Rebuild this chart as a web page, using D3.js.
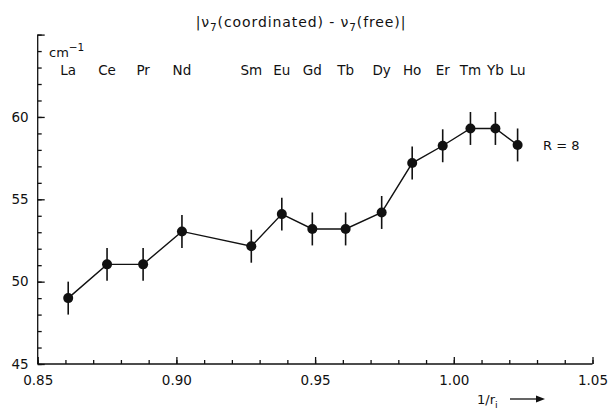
<!DOCTYPE html>
<html>
<head>
<meta charset="utf-8">
<script src="https://cdn.jsdelivr.net/npm/d3@7"></script>
<style>
  body { margin: 0; background: #fff; }
  text { font-family: "DejaVu Sans", "Liberation Sans", sans-serif; fill: #111; }
</style>
</head>
<body>
<script>
// lanthanide series
var elements = ["La", "Ce", "Pr", "Nd", "Sm", "Eu", "Gd", "Tb", "Dy", "Ho", "Er", "Tm", "Yb", "Lu"];
var invRadius = [0.861, 0.875, 0.888, 0.902, 0.927, 0.938, 0.949, 0.961, 0.974, 0.985, 0.996, 1.006, 1.015, 1.023];
var shift = [49.0, 51.05, 51.05, 53.05, 52.15, 54.1, 53.2, 53.2, 54.2, 57.2, 58.25, 59.3, 59.3, 58.3];
var errBar = [1, 1, 1, 1, 1, 1, 1, 1, 1, 1, 1, 1, 1, 1];
var xTickLabels = [0.85, 0.90, 0.95, 1.00, 1.05];
var yTickLabels = [45, 50, 55, 60];

var W = 609, H = 410;

var svg = d3.select("body").append("svg")
    .attr("width", W)
    .attr("height", H);

var x = d3.scaleLinear().domain([0.85, 1.05]).range([37.7, 592.5]);
var y = d3.scaleLinear().domain([45, 65]).range([364, 34.6]);

// minor ticks every 0.01 / every 1 unit
var xMinor = d3.range(85, 106).map(function(d) { return d / 100; });
var yMinor = d3.range(45, 66);

svg.append("g")
    .attr("transform", "translate(0," + y(45) + ")")
    .call(d3.axisBottom(x).tickValues(xMinor).tickSize(-4).tickFormat(""))
    .call(function(g) { g.select(".domain").remove(); });

svg.append("g")
    .attr("transform", "translate(0," + y(45) + ")")
    .call(d3.axisBottom(x).tickValues(xTickLabels).tickSize(-7).tickPadding(11)
      .tickFormat(d3.format(".2f")))
    .call(function(g) {
      g.select(".domain").attr("d", "M" + x(0.85) + ",0H" + x(1.05));
      g.selectAll("text").style("font-size", "13.5px").style("font-family", "DejaVu Sans");
    });

svg.append("g")
    .attr("transform", "translate(" + x(0.85) + ",0)")
    .call(d3.axisLeft(y).tickValues(yMinor).tickSize(-4).tickFormat(""))
    .call(function(g) { g.select(".domain").remove(); });

svg.append("g")
    .attr("transform", "translate(" + x(0.85) + ",0)")
    .call(d3.axisLeft(y).tickValues(yTickLabels.concat([65])).tickSize(-7).tickPadding(9)
      .tickFormat(function(d) { return d === 65 ? "" : d; }))
    .call(function(g) {
      g.select(".domain").attr("d", "M0," + y(45) + "V" + y(65));
      g.selectAll("text").style("font-size", "13.5px").style("font-family", "DejaVu Sans");
    });

svg.selectAll(".tick line, .domain").attr("stroke", "#111").attr("stroke-width", 1.3);

// data line
var line = d3.line()
    .x(function(d, i) { return x(invRadius[i]); })
    .y(function(d) { return y(d); });

svg.append("path")
    .datum(shift)
    .attr("d", line)
    .attr("fill", "none")
    .attr("stroke", "#111")
    .attr("stroke-width", 1.4);

// error bars
svg.selectAll("line.err")
    .data(shift)
    .enter().append("line")
    .attr("class", "err")
    .attr("x1", function(d, i) { return x(invRadius[i]); })
    .attr("x2", function(d, i) { return x(invRadius[i]); })
    .attr("y1", function(d, i) { return y(d - errBar[i]); })
    .attr("y2", function(d, i) { return y(d + errBar[i]); })
    .attr("stroke", "#111")
    .attr("stroke-width", 1.6);

svg.selectAll("circle.pt")
    .data(shift)
    .enter().append("circle")
    .attr("class", "pt")
    .attr("cx", function(d, i) { return x(invRadius[i]); })
    .attr("cy", function(d) { return y(d); })
    .attr("r", 5)
    .attr("fill", "#111");

// element names above the points
svg.selectAll("text.el")
    .data(elements)
    .enter().append("text")
    .attr("class", "el")
    .attr("x", function(d, i) { return x(invRadius[i]); })
    .attr("y", 75)
    .attr("text-anchor", "middle")
    .style("font-size", "13.5px")
    .text(function(d) { return d; });

// unit label
var unit = svg.append("text")
    .attr("x", 49)
    .attr("y", 57)
    .style("font-size", "13px");
unit.append("tspan").text("cm");
unit.append("tspan").attr("dy", -6).style("font-size", "10.5px").text("\u22121");

// title
var title = svg.append("text")
    .attr("x", 301)
    .attr("y", 27)
    .attr("text-anchor", "middle")
    .style("font-size", "14px")
    .style("letter-spacing", "0.9px");
title.append("tspan").text("|\u03BD");
title.append("tspan").attr("dy", 4).style("font-size", "10.5px").text("7");
title.append("tspan").attr("dy", -4).text("(coordinated) - \u03BD");
title.append("tspan").attr("dy", 4).style("font-size", "10.5px").text("7");
title.append("tspan").attr("dy", -4).text("(free)|");

svg.append("text")
    .attr("x", 543)
    .attr("y", 150)
    .style("font-size", "13px")
    .text("R = 8");

// x axis label with arrow
var xl = svg.append("text")
    .attr("x", 477)
    .attr("y", 404)
    .style("font-size", "13px");
xl.append("tspan").text("1/r");
xl.append("tspan").attr("dy", 4).style("font-size", "9.5px").text("i");

svg.append("line")
    .attr("x1", 510).attr("x2", 538)
    .attr("y1", 399).attr("y2", 399)
    .attr("stroke", "#111").attr("stroke-width", 1.3);
svg.append("path")
    .attr("d", "M536,395.5L545,399L536,402.5Z")
    .attr("fill", "#111");
</script>
</body>
</html>
